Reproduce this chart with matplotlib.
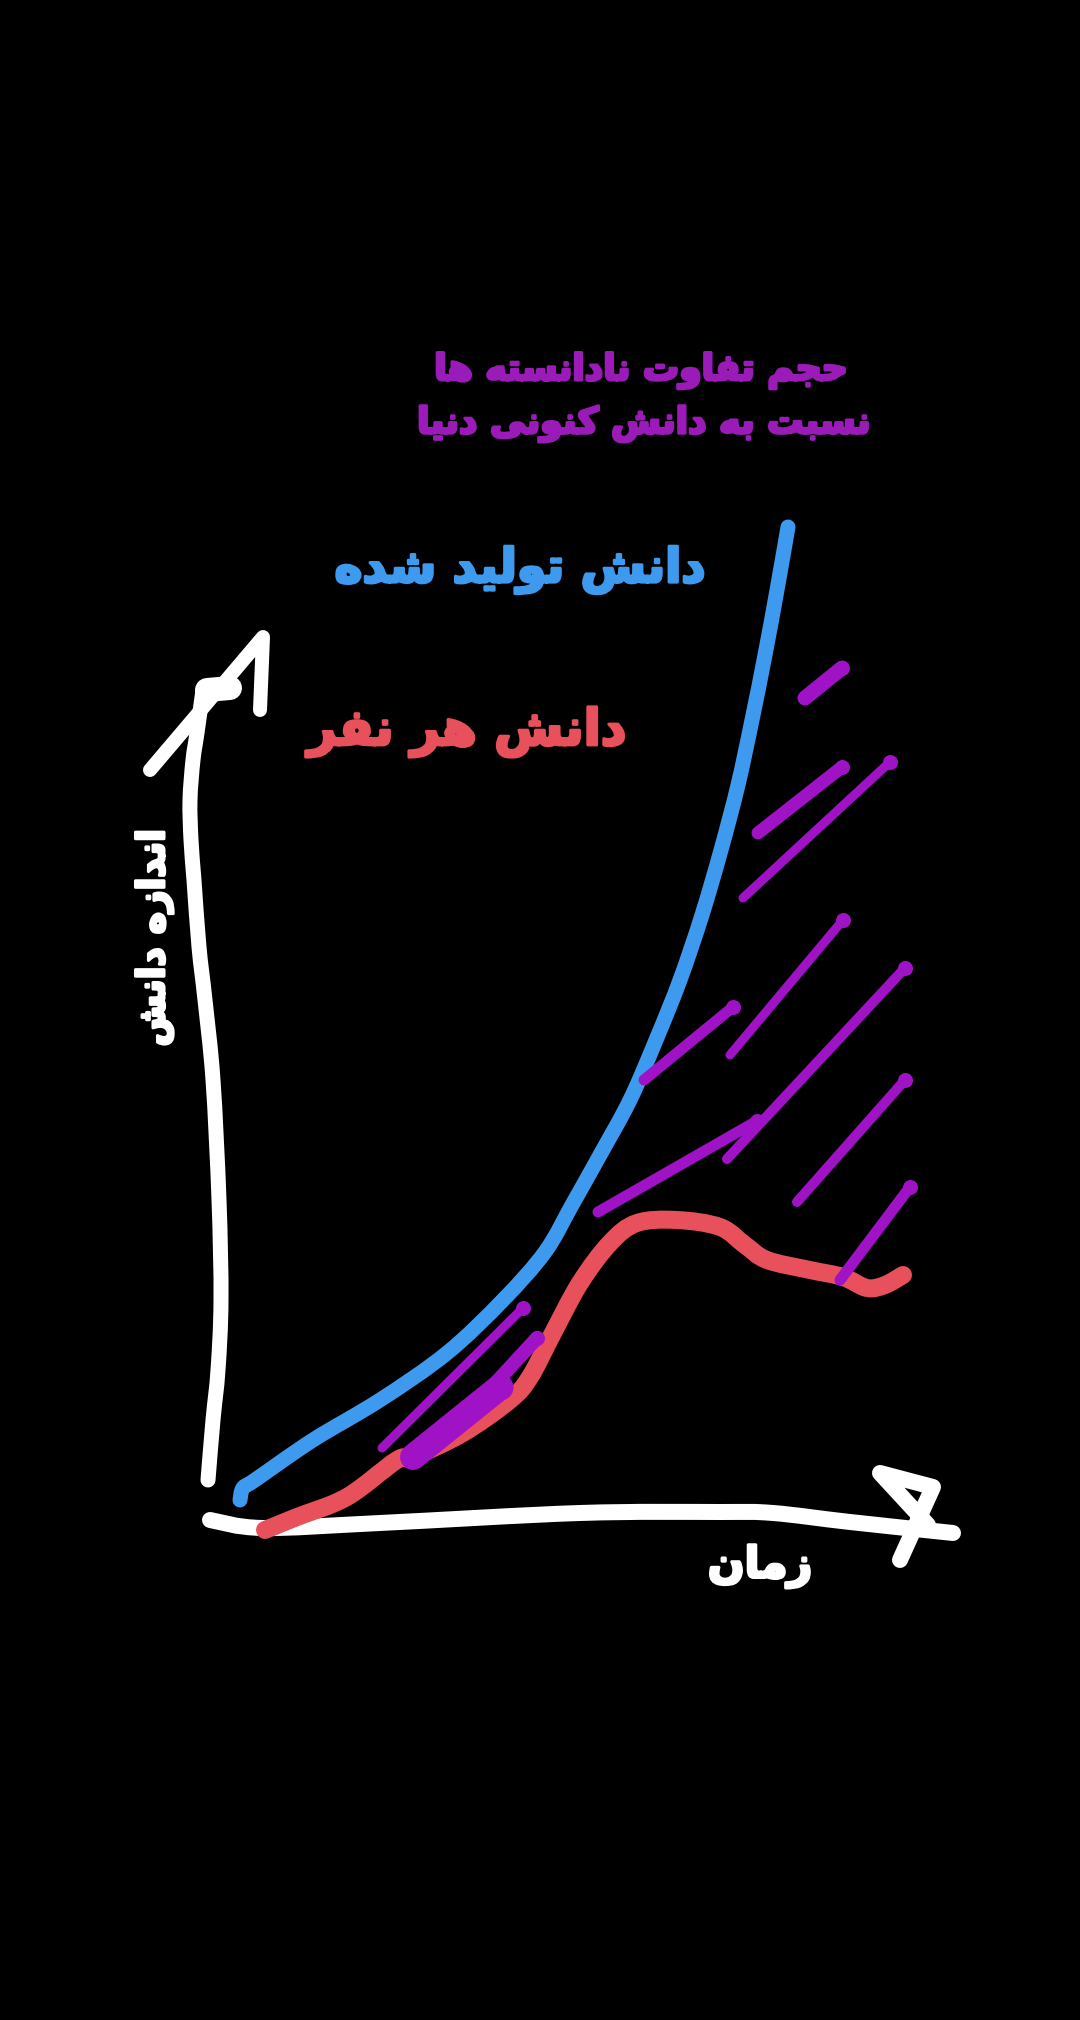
import matplotlib
matplotlib.use("Agg")
import matplotlib.pyplot as plt
from matplotlib.path import Path
from matplotlib.patches import PathPatch
import matplotlib.patheffects as pe

# ---------------- data (hand-drawn strokes, pixel space of a 1080x2020 canvas) -------------
yaxis_x = [208, 213, 218, 221, 219, 213, 205, 199, 194, 191, 190, 193, 197, 203]
yaxis_y = [1480, 1420, 1370, 1300, 1200, 1080, 1000, 947, 880, 840, 800, 760, 733, 690]
yarrow_x = [150, 263, 260]
yarrow_y = [770, 637, 710]
yblob_x = [207, 230]
yblob_y = [690, 688]

xaxis_x = [210, 263, 380, 580, 720, 773, 850, 953]
xaxis_y = [1520, 1528, 1523, 1513, 1512, 1513, 1522, 1533]
xarrow_x = [900, 933, 880, 928]
xarrow_y = [1560, 1487, 1473, 1525]

blue_x = [240, 243, 255, 313, 380, 447, 503, 545, 572, 600, 630, 656, 680, 702, 721, 738, 752, 765, 777, 788]
blue_y = [1500, 1488, 1480, 1440, 1400, 1353, 1300, 1252, 1205, 1155, 1100, 1040, 980, 915, 850, 785, 720, 655, 590, 527]

red_x = [265, 297, 347, 397, 413, 463, 510, 530, 553, 580, 610, 637, 677, 720, 745, 767, 810, 843, 867, 885, 903]
red_y = [1530, 1517, 1497, 1460, 1457, 1433, 1400, 1377, 1333, 1283, 1243, 1223, 1220, 1227, 1245, 1260, 1270, 1277, 1288, 1285, 1275]

# purple hatch strokes: (x0, y0) lower end -> (x1, y1) upper end, pen width in px
hatch_x0 = [805, 758, 743, 730, 644, 727, 598, 797, 840, 382, 413, 480]
hatch_y0 = [698, 833, 898, 1055, 1080, 1159, 1212, 1202, 1280, 1448, 1457, 1400]
hatch_x1 = [842, 842, 890, 843, 733, 905, 757, 905, 910, 523, 500, 537]
hatch_y1 = [668, 767, 762, 920, 1007, 968, 1121, 1080, 1187, 1308, 1387, 1338]
hatch_w = [15, 13, 9, 9, 11, 10, 11, 10, 11, 9, 26, 14]

title_lines = ["حجم تفاوت نادانسته ها", "نسبت به دانش کنونی دنیا"]
label_blue = "دانش تولید شده"
label_red = "دانش هر نفر"
ylabel = "اندازه دانش"
xlabel = "زمان"

WHITE = "#FFFFFF"
BLUE = "#3E9AEE"
RED = "#E8505B"
PURPLE = "#A012C6"
PURPLE_TXT = "#9A1BB8"

# ---------------- minimal Arabic/Persian shaping ----------------
FORMS = {
    'ا': ('\uFE8D', '\uFE8E', None, None),
    'ب': ('\uFE8F', '\uFE90', '\uFE91', '\uFE92'),
    'ت': ('\uFE95', '\uFE96', '\uFE97', '\uFE98'),
    'ج': ('\uFE9D', '\uFE9E', '\uFE9F', '\uFEA0'),
    'ح': ('\uFEA1', '\uFEA2', '\uFEA3', '\uFEA4'),
    'د': ('\uFEA9', '\uFEAA', None, None),
    'ر': ('\uFEAD', '\uFEAE', None, None),
    'ز': ('\uFEAF', '\uFEB0', None, None),
    'س': ('\uFEB1', '\uFEB2', '\uFEB3', '\uFEB4'),
    'ش': ('\uFEB5', '\uFEB6', '\uFEB7', '\uFEB8'),
    'ف': ('\uFED1', '\uFED2', '\uFED3', '\uFED4'),
    'ل': ('\uFEDD', '\uFEDE', '\uFEDF', '\uFEE0'),
    'م': ('\uFEE1', '\uFEE2', '\uFEE3', '\uFEE4'),
    'ن': ('\uFEE5', '\uFEE6', '\uFEE7', '\uFEE8'),
    'ه': ('\uFEE9', '\uFEEA', '\uFEEB', '\uFEEC'),
    'و': ('\uFEED', '\uFEEE', None, None),
    'ک': ('\uFB8E', '\uFB8F', '\uFB90', '\uFB91'),
    'ی': ('\uFBFC', '\uFBFD', '\uFBFE', '\uFBFF'),
}


def shape(s):
    out = []
    n = len(s)
    for i, c in enumerate(s):
        if c not in FORMS:
            out.append(c)
            continue
        f = FORMS[c]
        prev_c = s[i - 1] if i > 0 else None
        next_c = s[i + 1] if i < n - 1 else None
        join_prev = prev_c in FORMS and FORMS[prev_c][2] is not None
        join_next = f[2] is not None and next_c in FORMS
        if join_prev and join_next:
            g = f[3]
        elif join_prev:
            g = f[1]
        elif join_next:
            g = f[2]
        else:
            g = f[0]
        out.append(g)
    return ''.join(reversed(out))


# ---------------- drawing ----------------
fig = plt.figure(figsize=(10.8, 20.2), dpi=100, facecolor="black")
ax = fig.add_axes([0, 0, 1, 1])
ax.set_facecolor("black")
ax.set_xlim(0, 1080)
ax.set_ylim(2020, 0)
ax.axis("off")

PX = 0.72  # points per pixel at 100 dpi


def stroke(x, y, color, wpx, z=2):
    ax.plot(x, y, color=color, lw=wpx * PX, solid_capstyle="round",
            solid_joinstyle="round", zorder=z)


def smooth_stroke(x, y, color, wpx, z=2):
    """Pen stroke through the given points drawn as a Catmull-Rom Bezier path."""
    pts = list(zip(x, y))
    n = len(pts)
    verts = [pts[0]]
    codes = [Path.MOVETO]
    for i in range(n - 1):
        p0 = pts[i - 1] if i > 0 else pts[i]
        p1 = pts[i]
        p2 = pts[i + 1]
        p3 = pts[i + 2] if i + 2 < n else pts[i + 1]
        c1 = (p1[0] + (p2[0] - p0[0]) / 6.0, p1[1] + (p2[1] - p0[1]) / 6.0)
        c2 = (p2[0] - (p3[0] - p1[0]) / 6.0, p2[1] - (p3[1] - p1[1]) / 6.0)
        verts += [c1, c2, p2]
        codes += [Path.CURVE4] * 3
    patch = PathPatch(Path(verts, codes), fill=False, edgecolor=color, lw=wpx * PX,
                      capstyle="round", joinstyle="round", zorder=z)
    ax.add_patch(patch)


smooth_stroke(yaxis_x, yaxis_y, WHITE, 15)
stroke(yarrow_x, yarrow_y, WHITE, 14)
stroke(yblob_x, yblob_y, WHITE, 24)
smooth_stroke(xaxis_x, xaxis_y, WHITE, 16)
stroke(xarrow_x, xarrow_y, WHITE, 16)

smooth_stroke(blue_x, blue_y, BLUE, 15, z=3)
smooth_stroke(red_x, red_y, RED, 18, z=3)

for x0, y0, x1, y1, w in zip(hatch_x0, hatch_y0, hatch_x1, hatch_y1, hatch_w):
    stroke([x0, x1], [y0, y1], PURPLE, w, z=4)
    ax.plot([x1], [y1], "o", color=PURPLE, ms=max(w, 15) * PX, mew=0, zorder=4)

fam = ["DejaVu Sans"]


def label(x, y, s, color, size, rot=0):
    ax.text(x, y, shape(s), color=color, fontsize=size, fontweight="bold",
            ha="center", va="center", rotation=rot, family=fam, zorder=5,
            path_effects=[pe.withStroke(linewidth=2.2, foreground=color)])


label(641, 371, title_lines[0], PURPLE_TXT, 26)
label(644, 424, title_lines[1], PURPLE_TXT, 26)
label(520, 570, label_blue, BLUE, 34)
label(467, 732, label_red, RED, 36)
label(154, 938, ylabel, WHITE, 27, rot=90)
label(760, 1566, xlabel, WHITE, 31)

fig.savefig("out.png", dpi=100, facecolor="black")
